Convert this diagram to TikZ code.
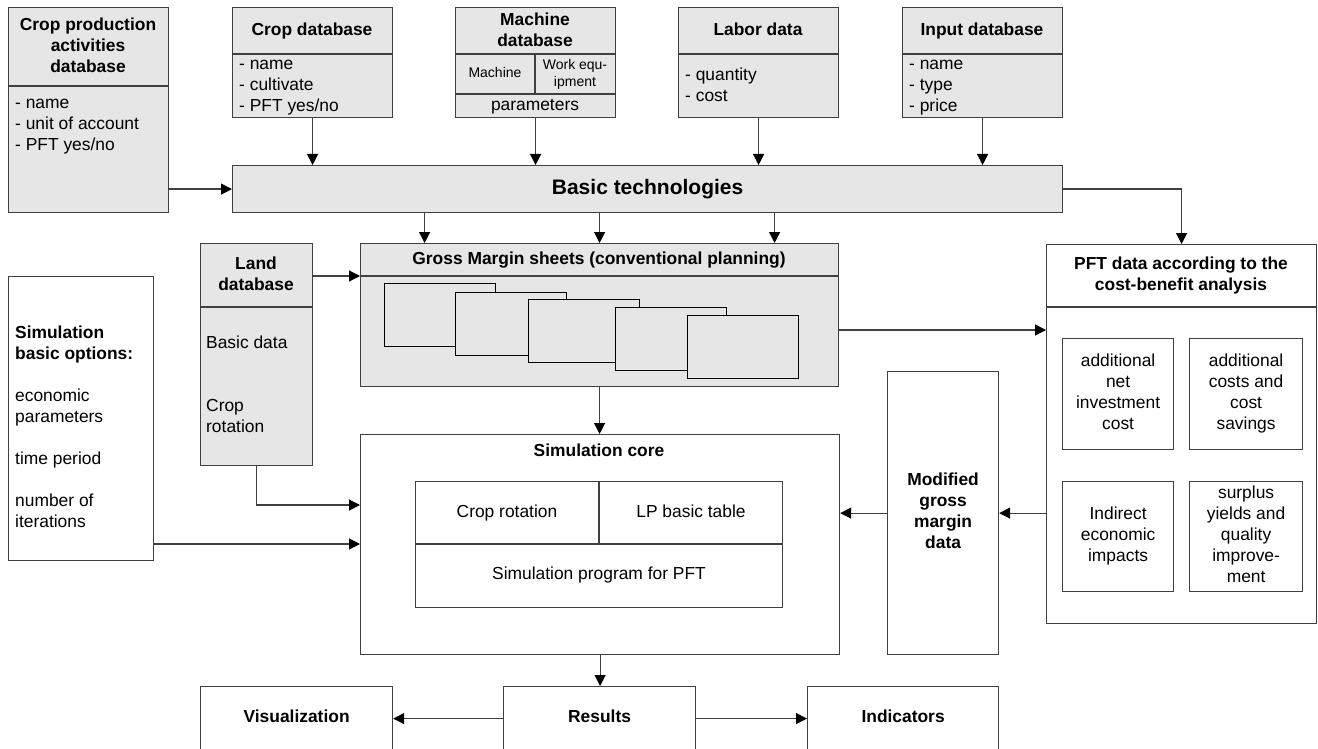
\documentclass[tikz,border=0pt]{standalone}
\usepackage{fontspec}
\setmainfont{Liberation Sans}
\usetikzlibrary{arrows.meta,calc}
\definecolor{boxfill}{RGB}{230,230,230}
\definecolor{edge}{RGB}{64,64,64}
\tikzset{
  frame/.style={draw=edge, line width=1.2pt, inner sep=0pt, anchor=north west},
  dbox/.style={frame, fill=boxfill},
  wbox/.style={frame, fill=white},
  sheet/.style={draw=black, line width=1pt, fill=boxfill, inner sep=0pt, anchor=north west,
    minimum width=111pt, minimum height=63pt},
  divider/.style={draw=edge, line width=1.2pt},
  arr/.style={draw=edge, line width=1.2pt, -{Triangle[length=11pt,width=11pt,color=black]}},
  txt/.style={font=\fontsize{17.4}{21}\selectfont, inner sep=0pt, align=center},
  ttl/.style={inner sep=0pt, align=center, font=\fontsize{17.4}{21}\selectfont\bfseries},
  lst/.style={txt, align=left, anchor=west},
  smalltxt/.style={font=\fontsize{14}{17}\selectfont, inner sep=0pt, align=center},
}
\begin{document}
\begin{tikzpicture}[x=1pt,y=-1pt]
\useasboundingbox (0,0) rectangle (1318,749);
\clip (0,0) rectangle (1318,749);

% ---------- databases on top ----------
\node[dbox, minimum width=160pt, minimum height=205pt] (cpa) at (8,7) {};
\draw[divider] (cpa.west |- 0,86) -- (cpa.east |- 0,86);
\node[ttl] at (88,47) {\strut Crop production\\\strut activities\\\strut database};
\node[lst] at (15,125) {\strut- name\\\strut- unit of account\\\strut- PFT yes/no};

\node[dbox, minimum width=160pt, minimum height=110pt] (cdb) at (232,7) {};
\draw[divider] (cdb.west |- 0,54) -- (cdb.east |- 0,54);
\node[ttl] at (312,31) {\strut Crop database};
\node[lst] at (239,86) {\strut- name\\\strut- cultivate\\\strut- PFT yes/no};

\node[dbox, minimum width=160pt, minimum height=110pt] (mdb) at (455,7) {};
\draw[divider] (mdb.west |- 0,54) -- (mdb.east |- 0,54);
\draw[divider] (mdb.west |- 0,94) -- (mdb.east |- 0,94);
\draw[divider] (535,54) -- (535,94);
\node[ttl] at (535,31.5) {\strut Machine\\\strut database};
\node[smalltxt] at (495,74.5) {\strut Machine};
\node[smalltxt] at (575,74.5) {\strut Work equ-\\\strut ipment};
\node[txt] at (535,106) {\strut parameters};

\node[dbox, minimum width=160pt, minimum height=110pt] (ldb) at (678,7) {};
\draw[divider] (ldb.west |- 0,54) -- (ldb.east |- 0,54);
\node[ttl] at (758,31) {\strut Labor data};
\node[lst] at (685,87) {\strut- quantity\\\strut- cost};

\node[dbox, minimum width=160pt, minimum height=110pt] (idb) at (902,7) {};
\draw[divider] (idb.west |- 0,54) -- (idb.east |- 0,54);
\node[ttl] at (982,31) {\strut Input database};
\node[lst] at (909,86) {\strut- name\\\strut- type\\\strut- price};

% ---------- basic technologies ----------
\node[dbox, minimum width=830pt, minimum height=47pt,
      font=\fontsize{21}{25}\selectfont\bfseries] (basic) at (232,165) {Basic technologies};

% ---------- land database ----------
\node[dbox, minimum width=112pt, minimum height=222pt] (land) at (200,243) {};
\draw[divider] (land.west |- 0,307) -- (land.east |- 0,307);
\node[ttl] at (256,276) {\strut Land\\\strut database};
\node[lst] at (206,344) {\strut Basic data};
\node[lst] at (206,418) {\strut Crop\\\strut rotation};

% ---------- gross margin sheets ----------
\node[dbox, minimum width=478pt, minimum height=143pt] (gm) at (360,243) {};
\draw[divider] (gm.west |- 0,276) -- (gm.east |- 0,276);
\coordinate (gmhead) at (360,276);
\node[ttl] at (599,260) {\strut Gross Margin sheets (conventional planning)};
\node[sheet] (s1) at (384,283) {};
\node[sheet] (s2) at (455,292) {};
\node[sheet] (s3) at (528,299) {};
\node[sheet] (s4) at (615,307) {};
\node[sheet] (s5) at (687,315) {};

% ---------- PFT data ----------
\node[wbox, minimum width=270pt, minimum height=379pt] (pft) at (1046,244) {};
\draw[divider] (pft.west |- 0,307) -- (pft.east |- 0,307);
\coordinate (pftin) at (1046,330);
\node[ttl] at (1181,275.5) {\strut PFT data according to the\\\strut cost-benefit analysis};
\node[wbox, txt, anchor=north west, minimum width=111pt, minimum height=111pt] (p1) at (1062,338)
  {\strut additional\\\strut net\\\strut investment\\\strut cost};
\node[wbox, txt, anchor=north west, minimum width=113pt, minimum height=111pt] (p2) at (1189,338)
  {\strut additional\\\strut costs and\\\strut cost\\\strut savings};
\node[wbox, txt, anchor=north west, minimum width=111pt, minimum height=110pt] (p3) at (1062,481)
  {\strut Indirect\\\strut economic\\\strut impacts};
\node[wbox, txt, anchor=north west, minimum width=113pt, minimum height=110pt] (p4) at (1189,481)
  {\strut surplus\\\strut yields and\\\strut quality\\\strut improve-\\\strut ment};

% ---------- simulation options ----------
\node[wbox, minimum width=145pt, minimum height=284pt] (sbo) at (8,276) {};
\node[lst] at (15,429) {\strut\textbf{Simulation}\\\strut\textbf{basic options:}\\[21pt]
  \strut economic\\\strut parameters\\[21pt]\strut time period\\[21pt]\strut number of\\\strut iterations};

% ---------- simulation core ----------
\node[wbox, minimum width=479pt, minimum height=220pt] (core) at (360,434) {};
\coordinate (corein1) at (360,505);
\coordinate (corein2) at (360,544);
\node[ttl] at (599,452) {\strut Simulation core};
\node[wbox, minimum width=367pt, minimum height=126pt] (tab) at (415,481) {};
\draw[divider] (tab.west |- 0,544) -- (tab.east |- 0,544);
\draw[divider] (599,481) -- (599,544);
\node[txt] at (507,513) {\strut Crop rotation};
\node[txt] at (691,513) {\strut LP basic table};
\node[txt] at (599,575) {\strut Simulation program for PFT};

% ---------- modified gross margin data ----------
\node[wbox, ttl, anchor=north west, minimum width=111pt, minimum height=283pt] (mod) at (887,371)
  {\strut Modified\\\strut gross\\\strut margin\\\strut data};

% ---------- outputs ----------
\node[wbox, ttl, anchor=north west, minimum width=192pt, minimum height=64pt] (vis) at (200,686) {\strut Visualization};
\node[wbox, ttl, anchor=north west, minimum width=192pt, minimum height=64pt] (res) at (503,686) {\strut Results};
\node[wbox, ttl, anchor=north west, minimum width=191pt, minimum height=64pt] (ind) at (807,686) {\strut Indicators};

% ---------- connectors ----------
\draw[arr] (cpa.east |- basic.west) -- (basic.west);
\draw[arr] (cdb.south) -- (cdb.south |- basic.north);
\draw[arr] (mdb.south) -- (mdb.south |- basic.north);
\draw[arr] (ldb.south) -- (ldb.south |- basic.north);
\draw[arr] (idb.south) -- (idb.south |- basic.north);
\draw[arr] (basic.east) -| (pft.north);
\foreach \dx in {-175,0,175}
  \draw[arr] ([xshift=\dx pt]gm.north |- basic.south) -- ([xshift=\dx pt]gm.north);
\draw[arr] (land.east |- gmhead) -- (gmhead);
\draw[arr] (gm.east |- pftin) -- (pftin);
\draw[arr] (gm.south) -- (gm.south |- core.north);
\draw[arr] (land.south) |- (corein1);
\draw[arr] (sbo.east |- corein2) -- (corein2);
\draw[arr] (pft.west |- mod.east) -- (mod.east);
\draw[arr] (mod.west) -- (core.east |- mod.west);
\draw[arr] (core.south) -- (core.south |- res.north);
\draw[arr] (res.west) -- (vis.east);
\draw[arr] (res.east) -- (ind.west);
\end{tikzpicture}
\end{document}
